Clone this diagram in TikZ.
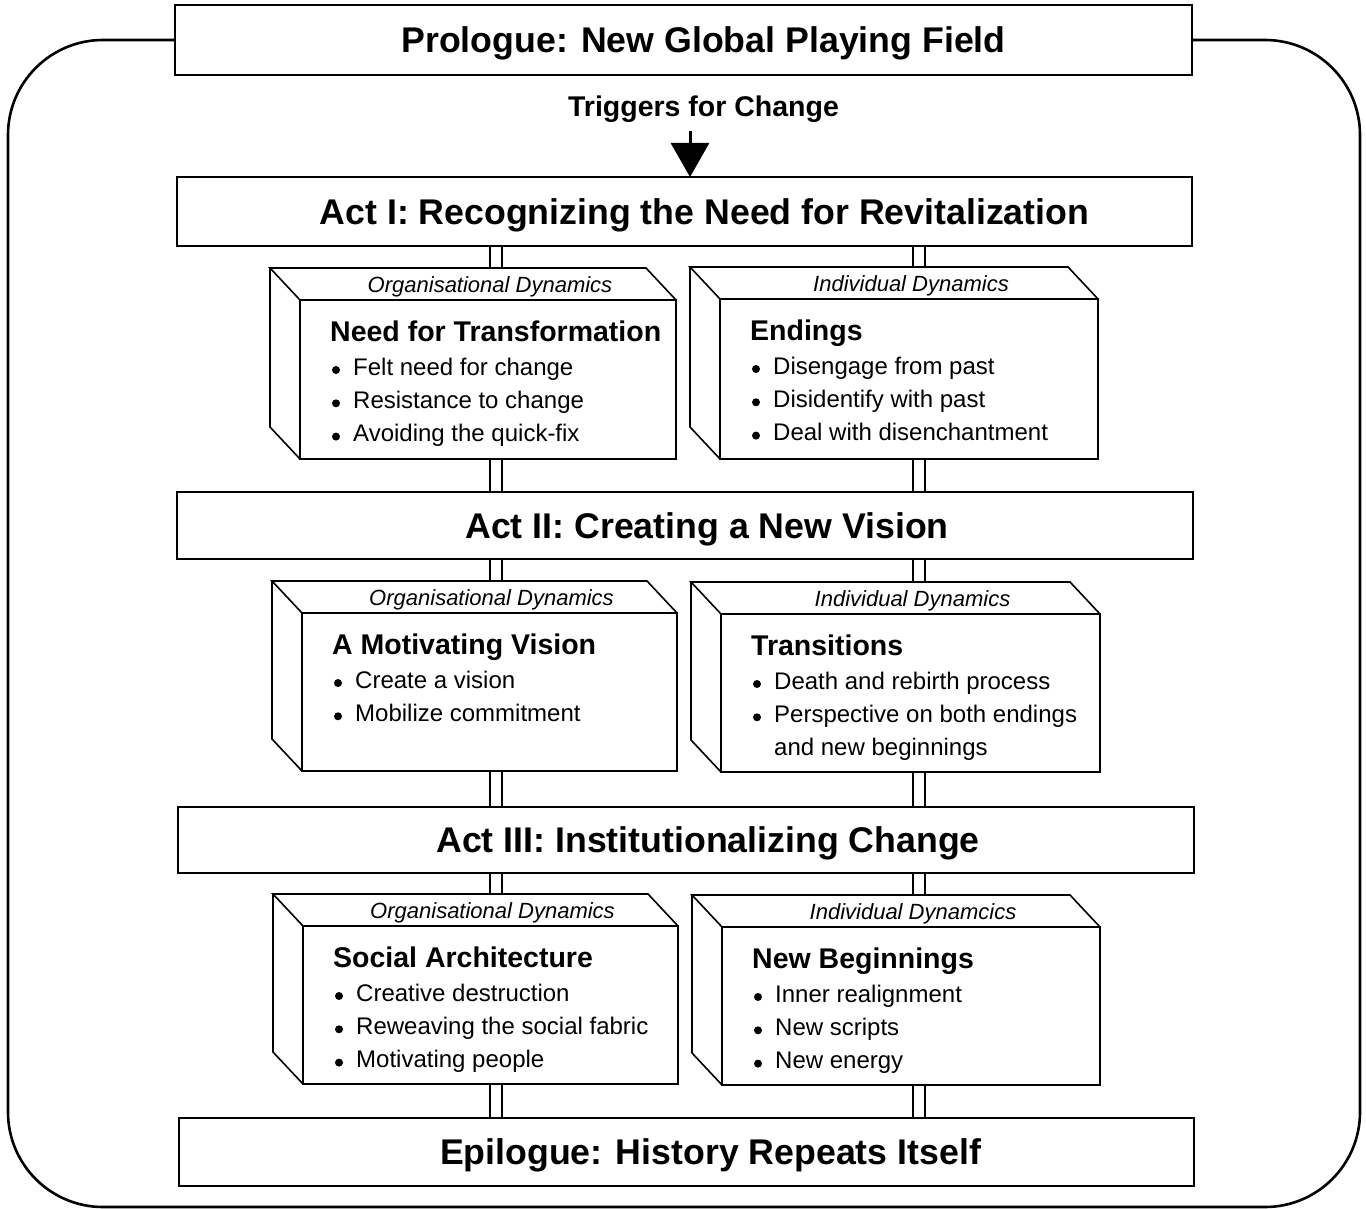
\documentclass[tikz,border=0pt]{standalone}
\usepackage{fontspec}
\setmainfont{Liberation Sans}
\usetikzlibrary{calc,arrows.meta}
\newcommand\dynbox[6]{%
  \node[front, minimum width={#4-#2}, minimum height={#5-#3}] (#1) at ({(#2+#4)/2},{(#3+#5)/2}) {};
  \coordinate (#1-btl) at ($(#1.north west)+(-30,-32)$);
  \coordinate (#1-btr) at ($(#1.north east)+(-30,-32)$);
  \coordinate (#1-bbl) at ($(#1.south west)+(-30,-32)$);
  \draw[edge] (#1.north west) -- (#1-btl) -- (#1-btr) -- (#1.north east);
  \draw[edge] (#1-btl) -- (#1-bbl) -- (#1.south west);
  \node[lab] (#1-lab) at ($(#1.north)+(2,-8)$) {#6};
}
\newcommand\dyntitle[3]{\node[ttl] (#2) at ($(#1.north west)+(30,41)$) {#3};}
\newcommand\dynitem[4]{%
  \node[itm] (#2) at ($(#1.north west)+(53,{75+33.3*(#3-1)})$) {#4};
  \fill ($(#2.base west)+(-17,-5)$) circle (4pt);}
\newcommand\dyncont[4]{%
  \node[itm] (#2) at ($(#1.north west)+(53,{75+33.3*(#3-1)})$) {#4};}
\newcommand\twin[4]{%
  \draw[conn] (#1 -| #3) -- (#2 -| #3);
  \draw[conn] (#1 -| #4) -- (#2 -| #4);}
\begin{document}
\begin{tikzpicture}[x=1pt,y=-1pt,
  edge/.style={line width=1.6pt, line join=miter},
  frame/.style={line width=2.6pt},
  act/.style={draw, line width=1.6pt, fill=white, inner sep=0pt, outer sep=0pt,
    font=\fontsize{35.7}{40}\selectfont\bfseries, text height=25.5pt, text depth=0pt},
  front/.style={draw, line width=1.6pt, fill=white, inner sep=0pt, outer sep=0pt},
  lab/.style={font=\fontsize{22}{26}\selectfont\itshape, inner sep=0pt, anchor=base},
  ttl/.style={font=\fontsize{28.5}{32}\selectfont\bfseries, inner sep=0pt, anchor=base west},
  itm/.style={font=\fontsize{24}{28}\selectfont, inner sep=0pt, anchor=base west},
  conn/.style={line width=1.6pt}
]
\useasboundingbox (0,0) rectangle (1366,1209);

% main stage boxes
\node[act, minimum width=1017, minimum height=70] (P) at (683.5,40) {\hspace*{40pt}Prologue: New Global Playing Field};
\node[act, minimum width=1015, minimum height=69] (A1) at (684.5,211.5) {\hspace*{40pt}Act I: Recognizing the Need for Revitalization};
\node[act, minimum width=1016, minimum height=67] (A2) at (685,525.5) {\hspace*{44pt}Act II: Creating a New Vision};
\node[act, minimum width=1016, minimum height=66] (A3) at (686,840) {\hspace*{44pt}Act III: Institutionalizing Change};
\node[act, minimum width=1015, minimum height=68] (E) at (686.5,1152) {\hspace*{48pt}Epilogue: History Repeats Itself};

% outer frame
\draw[frame, rounded corners=95pt] (P.west) -- (8,40) -- (8,1207) -- (1360,1207) -- (1360,40) -- (P.east);

% triggers
\node[font=\fontsize{28.5}{32}\selectfont\bfseries, inner sep=0pt, text height=20.4pt, text depth=0pt] (T) at (703.5,106) {Triggers for Change};
\coordinate (ast) at (690,131);
\draw[line width=3pt, -{Triangle[length=34pt,width=38pt]}] (ast) -- (A1.north -| ast);

% dynamics boxes
\dynbox{L1}{300}{300}{676}{459}{Organisational Dynamics}
\dynbox{R1}{720}{299}{1098}{459}{Individual Dynamics}
\dynbox{L2}{302}{613}{677}{771}{Organisational Dynamics}
\dynbox{R2}{721}{614}{1100}{772}{Individual Dynamics}
\dynbox{L3}{303}{926}{678}{1084}{Organisational Dynamics}
\dynbox{R3}{722}{927}{1100}{1085}{Individual Dynamcics}

\dyntitle{L1}{L1t}{Need for Transformation}
\dynitem{L1}{L1a}{1}{Felt need for change}
\dynitem{L1}{L1b}{2}{Resistance to change}
\dynitem{L1}{L1c}{3}{Avoiding the quick-fix}

\dyntitle{R1}{R1t}{Endings}
\dynitem{R1}{R1a}{1}{Disengage from past}
\dynitem{R1}{R1b}{2}{Disidentify with past}
\dynitem{R1}{R1c}{3}{Deal with disenchantment}

\dyntitle{L2}{L2t}{A Motivating Vision}
\dynitem{L2}{L2a}{1}{Create a vision}
\dynitem{L2}{L2b}{2}{Mobilize commitment}

\dyntitle{R2}{R2t}{Transitions}
\dynitem{R2}{R2a}{1}{Death and rebirth process}
\dynitem{R2}{R2b}{2}{Perspective on both endings}
\dyncont{R2}{R2c}{3}{and new beginnings}

\dyntitle{L3}{L3t}{Social Architecture}
\dynitem{L3}{L3a}{1}{Creative destruction}
\dynitem{L3}{L3b}{2}{Reweaving the social fabric}
\dynitem{L3}{L3c}{3}{Motivating people}

\dyntitle{R3}{R3t}{New Beginnings}
\dynitem{R3}{R3a}{1}{Inner realignment}
\dynitem{R3}{R3b}{2}{New scripts}
\dynitem{R3}{R3c}{3}{New energy}

% connectors
\coordinate (cl1) at (490,0); \coordinate (cl2) at (502,0);
\coordinate (cr1) at (913,0); \coordinate (cr2) at (925,0);
\twin{A1.south}{L1-btl}{cl1}{cl2}
\twin{L1.south}{A2.north}{cl1}{cl2}
\twin{A2.south}{L2-btl}{cl1}{cl2}
\twin{L2.south}{A3.north}{cl1}{cl2}
\twin{A3.south}{L3-btl}{cl1}{cl2}
\twin{L3.south}{E.north}{cl1}{cl2}
\twin{A1.south}{R1-btl}{cr1}{cr2}
\twin{R1.south}{A2.north}{cr1}{cr2}
\twin{A2.south}{R2-btl}{cr1}{cr2}
\twin{R2.south}{A3.north}{cr1}{cr2}
\twin{A3.south}{R3-btl}{cr1}{cr2}
\twin{R3.south}{E.north}{cr1}{cr2}
\end{tikzpicture}
\end{document}
